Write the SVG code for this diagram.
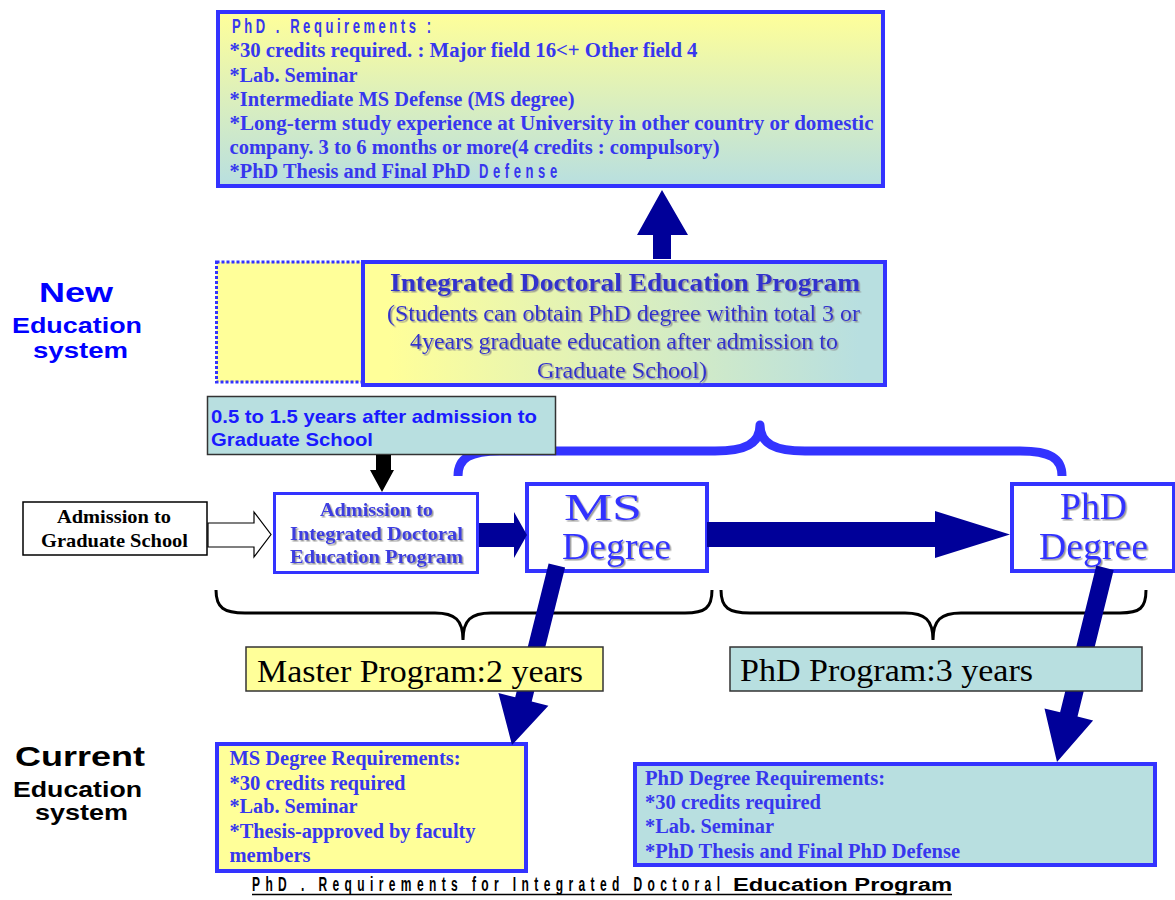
<svg xmlns="http://www.w3.org/2000/svg" width="1175" height="900" viewBox="0 0 1175 900">
<defs>
<linearGradient id="gv" x1="0" y1="0" x2="0" y2="1"><stop offset="0" stop-color="#ffff99"/><stop offset="1" stop-color="#b8dfe0"/></linearGradient>
<linearGradient id="gh" x1="0" y1="0" x2="1" y2="0"><stop offset="0.05" stop-color="#ffff99"/><stop offset="0.95" stop-color="#b8dfe0"/></linearGradient>
<filter id="sh" x="-5%" y="-10%" width="115%" height="130%"><feDropShadow dx="1.5" dy="1.5" stdDeviation="0.6" flood-color="#8a8a8a" flood-opacity="0.85"/></filter>
<style>
.bx{stroke:#3333ff;stroke-width:4}
.thin{stroke:#333;stroke-width:1.5}
.tr{font-family:"Liberation Serif","Times New Roman",serif;font-weight:bold;font-size:20px;fill:#3737ee}
.tn{font-family:"Liberation Serif","Times New Roman",serif;font-weight:bold;font-size:26px;fill:#3333cc}
.tm{font-family:"Liberation Serif","Times New Roman",serif;font-size:23px;fill:#3333cc}
.cond{font-family:"Liberation Sans",Arial,sans-serif;font-weight:bold;font-size:21px;fill:#3737ee}
.ar{font-family:"Liberation Sans",Arial,sans-serif;font-weight:bold}
.big{font-family:"Liberation Serif","Times New Roman",serif;font-size:38px;fill:#3333ff}
.prog{font-family:"Liberation Serif","Times New Roman",serif;font-size:32px;fill:#000}
.nav{fill:#000099}
</style>
</defs>
<rect width="1175" height="900" fill="#fff"/>

<g id="labels">
<text class="ar" x="39" y="302" font-size="28" fill="#0000ff" textLength="74" lengthAdjust="spacingAndGlyphs">New</text>
<text class="ar" x="12" y="333" font-size="22" fill="#0000ff" textLength="130" lengthAdjust="spacingAndGlyphs">Education</text>
<text class="ar" x="33" y="358" font-size="22" fill="#0000ff" textLength="95" lengthAdjust="spacingAndGlyphs">system</text>
<text class="ar" x="15" y="766" font-size="28" fill="#000" textLength="130" lengthAdjust="spacingAndGlyphs">Current</text>
<text class="ar" x="13" y="797" font-size="22" fill="#000" textLength="129" lengthAdjust="spacingAndGlyphs">Education</text>
<text class="ar" x="35" y="820" font-size="22" fill="#000" textLength="93" lengthAdjust="spacingAndGlyphs">system</text>
</g>

<g id="braces" fill="none">
<path d="M458,476 C458,458 470,451 500,451 L715,451 C745,451 760,444 760,425 C760,444 775,451 805,451 L1020,451 C1050,451 1062,458 1062,476" stroke="#3333ff" stroke-width="9" stroke-linejoin="round"/>
<path d="M216,590 C216,608 224,613 245,613 L435,613 C455,613 463,620 463,640 C463,620 471,613 491,613 L685,613 C705,613 712,608 712,590" stroke="#000" stroke-width="3"/>
<path d="M721,590 C721,608 729,613 750,613 L905,613 C925,613 933,620 933,640 C933,620 941,613 961,613 L1120,613 C1140,613 1146,608 1146,590" stroke="#000" stroke-width="3"/>
</g>

<g id="phd-requirements">
<rect x="218" y="12" width="665" height="174" fill="url(#gv)" class="bx"/>
<text class="cond" transform="translate(232,33) scale(0.62,1)" x="0" y="0" textLength="321" lengthAdjust="spacing">PhD . Requirements :</text>
<text class="tr" x="229.5" y="57" textLength="468" lengthAdjust="spacingAndGlyphs">*30 credits required. : Major field 16&lt;+  Other field 4</text>
<text class="tr" x="229.5" y="82" textLength="128" lengthAdjust="spacingAndGlyphs">*Lab. Seminar</text>
<text class="tr" x="229.5" y="106" textLength="345" lengthAdjust="spacingAndGlyphs">*Intermediate MS Defense (MS degree)</text>
<text class="tr" x="229.5" y="130" textLength="644" lengthAdjust="spacingAndGlyphs">*Long-term study experience at University in other country or domestic</text>
<text class="tr" x="229.5" y="154" textLength="490" lengthAdjust="spacingAndGlyphs">company. 3 to 6 months or more(4 credits : compulsory)</text>
<text class="tr" x="229.5" y="178" textLength="241" lengthAdjust="spacingAndGlyphs">*PhD Thesis and Final PhD</text>
<text class="cond" transform="translate(479,178) scale(0.62,1)" x="0" y="0" textLength="126" lengthAdjust="spacing">Defense</text>
</g>

<g id="integrated-program">
<rect x="216.5" y="262" width="146" height="120" fill="#ffff99" stroke="#3333ff" stroke-width="3" stroke-dasharray="3 2"/>
<rect x="363" y="262" width="522" height="123" fill="url(#gh)" class="bx"/>
<g filter="url(#sh)">
<text class="tn" x="390" y="291" textLength="470" lengthAdjust="spacingAndGlyphs">Integrated Doctoral Education Program</text>
<text class="tm" x="387" y="321" textLength="473" lengthAdjust="spacingAndGlyphs">(Students can obtain PhD degree within total 3 or</text>
<text class="tm" x="410" y="349" textLength="428" lengthAdjust="spacingAndGlyphs">4years graduate education after admission to</text>
<text class="tm" x="537" y="378" textLength="170" lengthAdjust="spacingAndGlyphs">Graduate School)</text>
</g>
</g>

<g id="timing-note">
<rect x="207.5" y="396.5" width="348" height="58" fill="#b8dfe0" class="thin"/>
<text class="ar" x="211" y="423" font-size="18.5" fill="#1a1aff" textLength="326" lengthAdjust="spacingAndGlyphs">0.5 to 1.5 years after admission to</text>
<text class="ar" x="211" y="446" font-size="18.5" fill="#1a1aff" textLength="162" lengthAdjust="spacingAndGlyphs">Graduate School</text>
</g>

<g id="admission-graduate">
<rect x="23" y="502" width="184" height="53" fill="#fff" stroke="#000" stroke-width="1.5"/>
<text x="57" y="523" font-family="Liberation Serif, serif" font-weight="bold" font-size="19.5" fill="#000" textLength="114" lengthAdjust="spacingAndGlyphs">Admission to</text>
<text x="41" y="547" font-family="Liberation Serif, serif" font-weight="bold" font-size="19.5" fill="#000" textLength="147" lengthAdjust="spacingAndGlyphs">Graduate School</text>
</g>

<g id="admission-integrated">
<rect x="274.5" y="493.5" width="203" height="79" fill="#fff" stroke="#3333ff" stroke-width="3"/>
<g filter="url(#sh)" font-family="Liberation Serif, serif" font-weight="bold" font-size="19.5" fill="#3d3de0">
<text x="320" y="516" textLength="113" lengthAdjust="spacingAndGlyphs">Admission to</text>
<text x="290" y="540" textLength="173" lengthAdjust="spacingAndGlyphs">Integrated Doctoral</text>
<text x="290" y="563" textLength="173" lengthAdjust="spacingAndGlyphs">Education Program</text>
</g>
</g>

<g id="ms-degree">
<rect x="527" y="484" width="180" height="87" fill="#fff" class="bx"/>
<g filter="url(#sh)">
<text class="big" x="564" y="520" textLength="78" lengthAdjust="spacingAndGlyphs">MS</text>
<text class="big" x="562" y="559" textLength="109" lengthAdjust="spacingAndGlyphs">Degree</text>
</g>
</g>

<g id="phd-degree">
<rect x="1012" y="484" width="162" height="87" fill="#fff" class="bx"/>
<g filter="url(#sh)">
<text class="big" x="1060" y="519" textLength="67" lengthAdjust="spacingAndGlyphs">PhD</text>
<text class="big" x="1039" y="559" textLength="109" lengthAdjust="spacingAndGlyphs">Degree</text>
</g>
</g>

<g id="ms-requirements">
<rect x="217" y="744" width="309" height="127" fill="#ffff99" class="bx"/>
<text class="tr" x="229.5" y="765" textLength="231" lengthAdjust="spacingAndGlyphs">MS Degree Requirements:</text>
<text class="tr" x="229.5" y="790" textLength="176" lengthAdjust="spacingAndGlyphs">*30 credits required</text>
<text class="tr" x="229.5" y="813" textLength="128" lengthAdjust="spacingAndGlyphs">*Lab. Seminar</text>
<text class="tr" x="229.5" y="838" textLength="246" lengthAdjust="spacingAndGlyphs">*Thesis-approved by faculty</text>
<text class="tr" x="229.5" y="862" textLength="81" lengthAdjust="spacingAndGlyphs">members</text>
</g>

<g id="phd-degree-requirements">
<rect x="635" y="764" width="520" height="101" fill="#b8dfe0" class="bx"/>
<text class="tr" x="645" y="785" textLength="240" lengthAdjust="spacingAndGlyphs">PhD Degree Requirements:</text>
<text class="tr" x="645" y="809" textLength="176" lengthAdjust="spacingAndGlyphs">*30 credits required</text>
<text class="tr" x="645" y="833" textLength="129" lengthAdjust="spacingAndGlyphs">*Lab. Seminar</text>
<text class="tr" x="645" y="858" textLength="315" lengthAdjust="spacingAndGlyphs">*PhD Thesis and Final PhD Defense</text>
</g>

<g id="connectors">
<polygon class="nav" points="653,259 671,259 671,235 688,235 662,190 637,235 653,235"/>
<polygon fill="#000" points="376,455 391,455 391,470 394,470 382,492 370,470 376,470"/>
<polygon fill="#fff" stroke="#000" stroke-width="1.2" points="208,523 254,523 254,512 271,534.5 254,557 254,547 208,547"/>
<polygon class="nav" points="479,523 514,523 514,512 527,535 514,558 514,547 479,547"/>
<polygon class="nav" points="707,522 935,522 935,511 1010,534.5 935,558 935,547 707,547"/>
<polygon class="nav" points="548.6,563.4 565.1,567.6 531.7,701.5 548.4,705.7 512,745 498.4,693.1 515.2,697.3"/>
<polygon class="nav" points="1096.3,565.6 1113.7,570 1077.5,716.6 1093.1,720.4 1057,762 1044.5,708.4 1060.1,712.2"/>
</g>

<g id="master-program">
<rect x="246" y="647" width="357" height="44" fill="#ffff99" class="thin"/>
<text class="prog" x="257" y="682" textLength="326" lengthAdjust="spacingAndGlyphs">Master Program:2 years</text>
</g>

<g id="phd-program">
<rect x="730" y="647" width="412" height="44" fill="#b8dfe0" class="thin"/>
<text class="prog" x="740" y="681" textLength="293" lengthAdjust="spacingAndGlyphs">PhD Program:3 years</text>
</g>

<g id="caption">
<text class="cond" transform="translate(252,891) scale(0.6,1)" x="0" y="0" style="fill:#000;font-size:20px" textLength="780" lengthAdjust="spacing">PhD . Requirements for Integrated Doctoral</text>
<text class="ar" x="733" y="891" font-size="18" fill="#000" textLength="219" lengthAdjust="spacingAndGlyphs">Education Program</text>
<line x1="252" y1="894.5" x2="952" y2="894.5" stroke="#000" stroke-width="1.5"/>
</g>
</svg>
